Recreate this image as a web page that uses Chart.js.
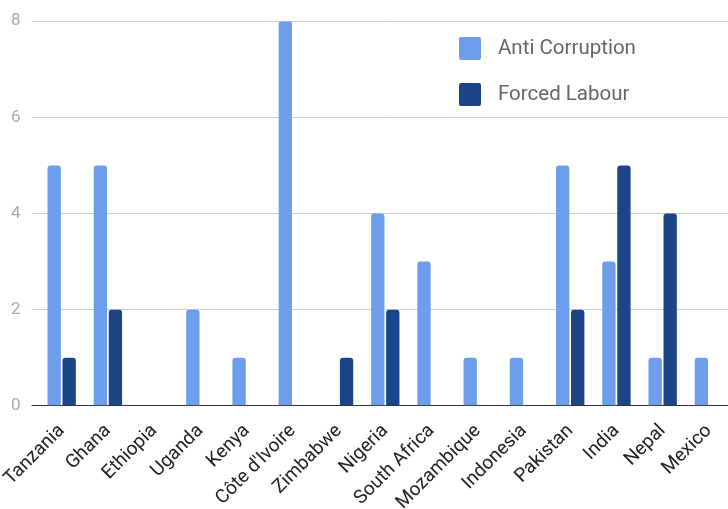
<!DOCTYPE html>
<html>
<head>
<meta charset="utf-8">
<script src="https://cdn.jsdelivr.net/npm/chart.js@4"></script>
<style>
  html, body { margin: 0; padding: 0; background: #fff; }
  #wrap { width: 728px; height: 509px; overflow: hidden; }
</style>
</head>
<body>
<div id="wrap"><canvas id="chartContainer" width="732" height="509"></canvas></div>
<script>
// Data
const countries = ['Tanzania', 'Ghana', 'Ethiopia', 'Uganda', 'Kenya', "Côte d'Ivoire", 'Zimbabwe',
    'Nigeria', 'South Africa', 'Mozambique', 'Indonesia', 'Pakistan', 'India', 'Nepal', 'Mexico'];
const antiCorruption = [5, 5, 0, 2, 1, 8, 0, 4, 3, 1, 1, 5, 3, 1, 1];
const forcedLabour = [1, 2, 0, 0, 0, 0, 1, 2, 0, 0, 0, 2, 5, 4, 0];
const yTicks = [0, 2, 4, 6, 8];

// Legend drawn inside the plot, stacked vertically
const boxLegend = {
    id: 'boxLegend',
    afterDraw(chart) {
        const ctx = chart.ctx;
        ctx.save();
        ctx.font = '20.5px Roboto';
        ctx.textBaseline = 'middle';
        chart.data.datasets.forEach((ds, i) => {
            const y = 37 + i * 46;
            ctx.fillStyle = ds.backgroundColor;
            ctx.beginPath();
            ctx.roundRect(459, y, 22, 23, 2);
            ctx.fill();
            ctx.fillStyle = '#666';
            ctx.fillText(ds.label, 498, y + 12);
        });
        ctx.restore();
    }
};

let chart;

function renderChart() {
    const ctx = document.getElementById('chartContainer').getContext('2d');
    if (chart) {
        chart.destroy();
    }
    chart = new Chart(ctx, {
        type: 'bar',
        data: {
            labels: countries,
            datasets: [{
                label: 'Anti Corruption',
                data: antiCorruption,
                backgroundColor: '#6d9eeb'
            }, {
                label: 'Forced Labour',
                data: forcedLabour,
                backgroundColor: '#1c4587'
            }]
        },
        plugins: [boxLegend],
        options: {
            responsive: false,
            animation: false,
            // labels run off the bottom edge like the original
            layout: { padding: { top: 20, right: 0, left: 0, bottom: -11 } },
            datasets: {
                bar: {
                    categoryPercentage: 0.65,
                    barPercentage: 0.887,
                    borderRadius: { topLeft: 3, topRight: 3 },
                    borderSkipped: 'bottom'
                }
            },
            plugins: {
                legend: { display: false },
                tooltip: { enabled: false }
            },
            scales: {
                x: {
                    grid: { display: false },
                    border: { display: false },
                    ticks: {
                        color: '#222',
                        font: { family: 'Roboto', size: 19 },
                        minRotation: 45,
                        maxRotation: 45,
                        autoSkip: false,
                        padding: 6
                    }
                },
                y: {
                    min: 0,
                    max: 8,
                    afterBuildTicks: axis => { axis.ticks = yTicks.map(v => ({ value: v })); },
                    border: { display: false },
                    grid: {
                        color: c => c.tick && c.tick.value === 0 ? '#333' : '#ccc',
                        tickLength: 7
                    },
                    ticks: {
                        color: '#aaa',
                        font: { family: 'Roboto', size: 17 },
                        padding: 11
                    }
                }
            }
        }
    });
}

renderChart();
</script>
</body>
</html>
